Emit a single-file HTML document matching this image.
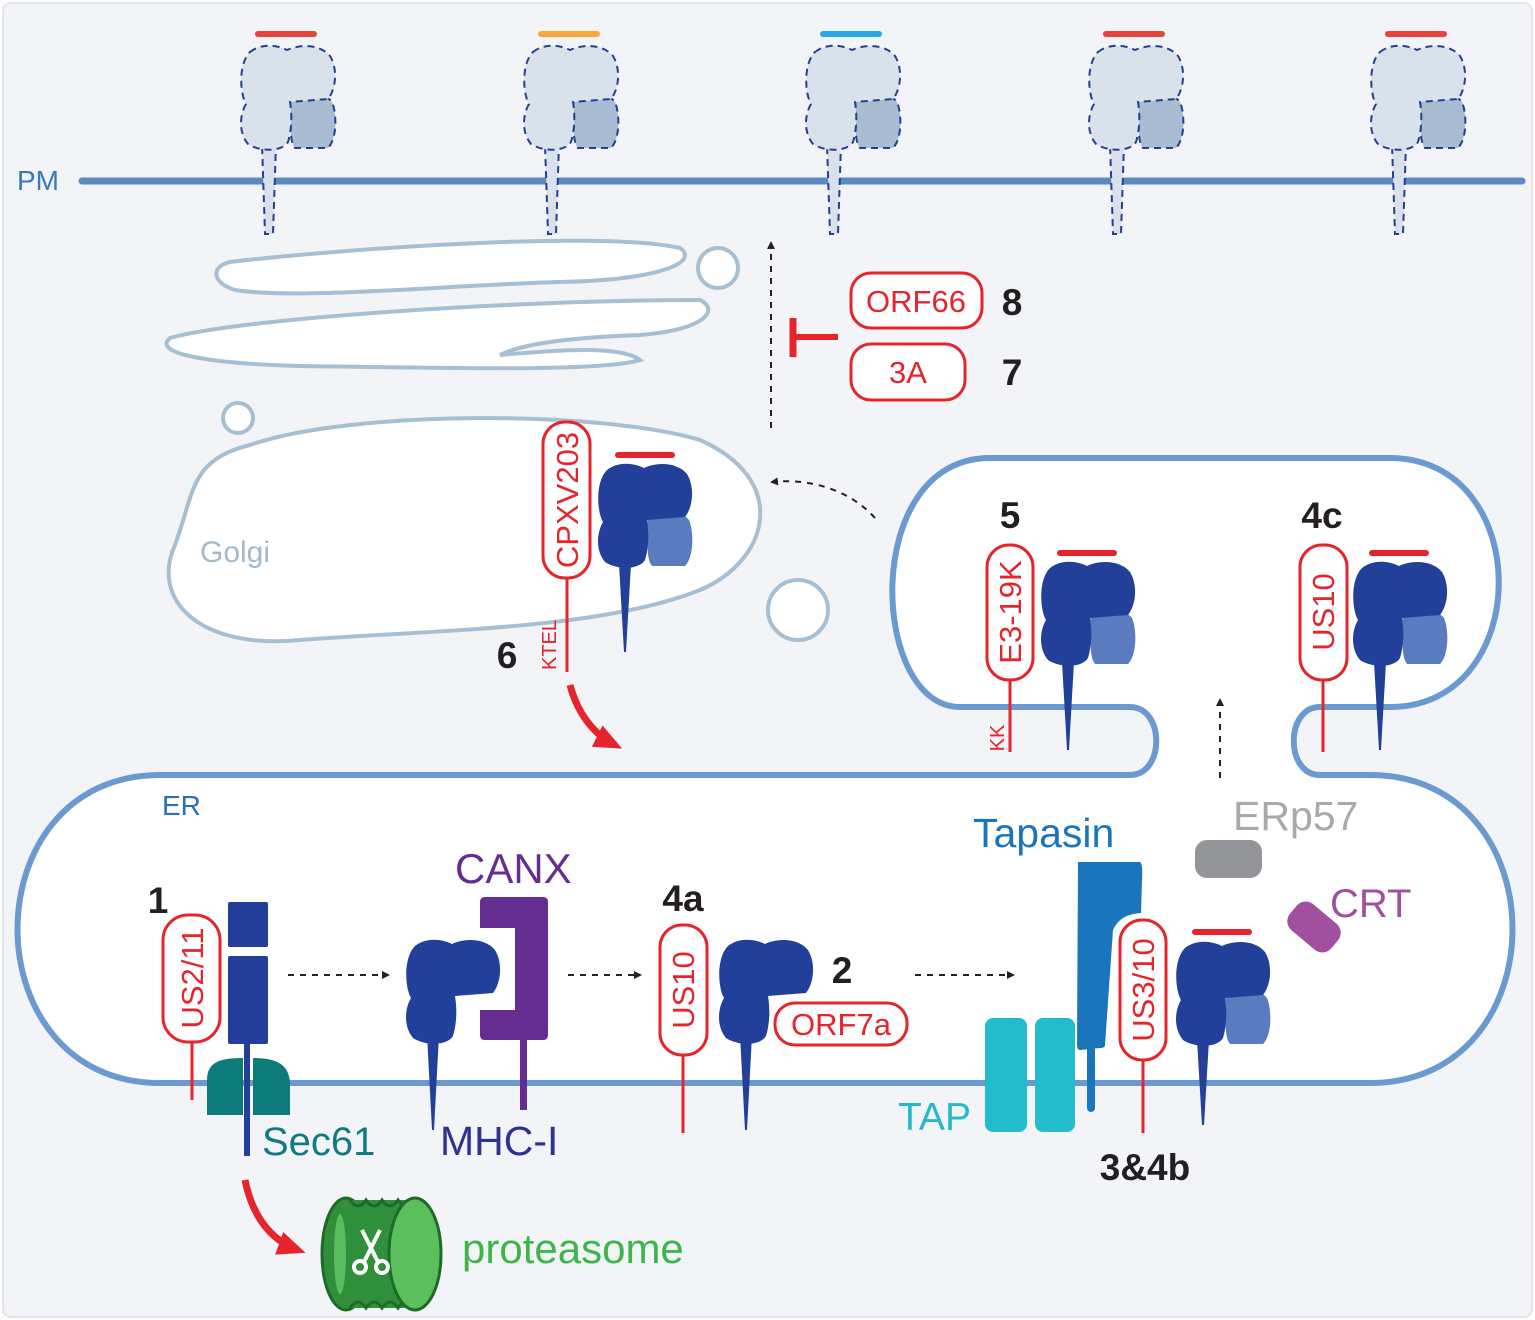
<!DOCTYPE html>
<html><head><meta charset="utf-8"><style>
html,body{margin:0;padding:0;background:#fff}
svg{display:block}
text{font-family:"Liberation Sans",Arial,sans-serif}
</style></head><body>
<svg width="1535" height="1320" viewBox="0 0 1535 1320" xmlns="http://www.w3.org/2000/svg">
<defs>
<g id="lite"><path d="M50,55 C60,48 85,48 92,58 C97,70 97,95 88,104 L55,104 C48,95 52,75 50,55Z" fill="#5a7bbd"/></g>
<g id="dark"><path d="M10,8 C20,0 35,0 47,6 C60,0 80,0 90,12 C98,25 96,45 88,55 L50,58 C52,70 52,85 48,98 C42,108 20,108 8,100 C-2,88 0,70 6,60 C0,50 -2,20 10,8Z" fill="#22409a"/></g>
<g id="ghost">
<path d="M22,100 L36,100 L33,190 L25,190 Z" fill="#d9e1ea" stroke="#24408f" stroke-width="2" stroke-dasharray="7,5"/>
<path d="M50,55 C60,48 85,48 92,58 C97,70 97,95 88,104 L55,104 C48,95 52,75 50,55Z" fill="#a9bdd2" stroke="#24408f" stroke-width="2" stroke-dasharray="7,5"/>
<path d="M10,8 C20,0 35,0 47,6 C60,0 80,0 90,12 C98,25 96,45 88,55 L50,58 C52,70 52,85 48,98 C42,108 20,108 8,100 C-2,88 0,70 6,60 C0,50 -2,20 10,8Z" fill="#d9e1ea" stroke="#24408f" stroke-width="2" stroke-dasharray="7,5"/>
</g>
<marker id="ah" markerWidth="8" markerHeight="8" refX="6" refY="4" orient="auto" markerUnits="userSpaceOnUse"><path d="M0,0 L8,4 L0,8Z" fill="#222"/></marker>
<marker id="rh" markerWidth="30" markerHeight="30" refX="20" refY="15" orient="auto" markerUnits="userSpaceOnUse"><path d="M0,3 L28,15 L0,27Z" fill="#e5242b"/></marker>
</defs>
<rect x="0" y="0" width="1535" height="1320" fill="#fff"/>
<rect x="3" y="3" width="1529" height="1314" rx="8" fill="#f2f4f8" stroke="#e3e6ec" stroke-width="2"/>

<!-- PM -->
<line x1="82" y1="181" x2="1522" y2="181" stroke="#5b8ac2" stroke-width="7" stroke-linecap="round"/>
<text x="17" y="190" font-size="28" fill="#3a78b8">PM</text>
<g>
<use href="#ghost" transform="translate(240,44)"/>
<use href="#ghost" transform="translate(523,44)"/>
<use href="#ghost" transform="translate(805,44)"/>
<use href="#ghost" transform="translate(1088,44)"/>
<use href="#ghost" transform="translate(1370,44)"/>
<rect x="255" y="31" width="62" height="6" rx="3" fill="#e8423a"/>
<rect x="538" y="31" width="62" height="6" rx="3" fill="#f5a83c"/>
<rect x="820" y="31" width="62" height="6" rx="3" fill="#27aae1"/>
<rect x="1103" y="31" width="62" height="6" rx="3" fill="#e8423a"/>
<rect x="1385" y="31" width="62" height="6" rx="3" fill="#e8423a"/>
</g>

<!-- Golgi -->
<g fill="#fff" stroke="#a7bfd3" stroke-width="4">
<path d="M230,262 C330,250 600,230 680,248 C700,262 660,280 560,282 C450,285 300,300 235,290 C210,282 212,266 230,262Z"/>
<path d="M170,338 C240,318 520,300 700,300 C720,310 705,330 640,335 C560,338 520,345 500,355 C560,350 620,345 640,360 C600,372 450,368 300,366 C220,364 150,355 170,338Z"/>
<path d="M250,445 C350,410 600,410 700,440 C790,480 770,560 700,590 C600,630 430,630 300,640 C200,650 150,600 175,545 C195,490 190,460 250,445Z"/>
<circle cx="718" cy="268" r="20"/>
<circle cx="238" cy="418" r="15"/>
<circle cx="798" cy="610" r="30"/>
</g>
<text x="200" y="562" font-size="30" fill="#a3b9cc">Golgi</text>

<!-- ER + vesicle -->
<path d="M160,775 L1130,775 C1165,775 1165,707 1130,707 L960,707 C870,707 860,458 990,458 L1390,458 C1535,458 1535,707 1390,707 L1320,707 C1285,707 1285,775 1320,775 L1370,775 C1560,775 1560,1083 1370,1083 L160,1083 C-30,1083 -30,775 160,775Z" fill="#fff" stroke="#6a9ad0" stroke-width="6"/>
<text x="162" y="815" font-size="28" fill="#2c6fb4">ER</text>

<!-- arrows dashed -->
<g stroke="#222" stroke-width="2" stroke-dasharray="6,6" fill="none" marker-end="url(#ah)">
<line x1="771" y1="428" x2="771" y2="243"/>
<path d="M875,518 C850,490 810,478 772,482"/>
<line x1="1220" y1="778" x2="1220" y2="700"/>
<line x1="288" y1="975" x2="388" y2="975"/>
<line x1="568" y1="975" x2="640" y2="975"/>
<line x1="915" y1="975" x2="1013" y2="975"/>
</g>

<!-- inhibit -->
<line x1="838" y1="337" x2="795" y2="337" stroke="#e5242b" stroke-width="6"/>
<line x1="793" y1="318" x2="793" y2="357" stroke="#e5242b" stroke-width="7"/>

<!-- red label boxes -->
<g fill="#fff" stroke="#e5242b" stroke-width="3">
<rect x="851" y="273" width="131" height="55" rx="20"/>
<rect x="851" y="344" width="114" height="56" rx="20"/>
<rect x="543" y="422" width="47" height="156" rx="22"/>
<rect x="987" y="545" width="46" height="135" rx="22"/>
<rect x="1300" y="545" width="47" height="135" rx="22"/>
<rect x="163" y="915" width="57" height="127" rx="25"/>
<rect x="660" y="925" width="47" height="130" rx="22"/>
<rect x="1120" y="920" width="46" height="140" rx="22"/>
</g>
<g stroke="#e5242b" stroke-width="3">
<line x1="567" y1="578" x2="567" y2="672"/>
<line x1="1010" y1="680" x2="1010" y2="752"/>
<line x1="1323" y1="680" x2="1323" y2="752"/>
<line x1="192" y1="1042" x2="192" y2="1100"/>
<line x1="683" y1="1055" x2="683" y2="1133"/>
<line x1="1143" y1="1060" x2="1143" y2="1133"/>
</g>
<g fill="#e5242b" font-size="31" text-anchor="middle">
<text x="916" y="312">ORF66</text>
<text x="908" y="383">3A</text>
<text transform="translate(578,500) rotate(-90)">CPXV203</text>
<text transform="translate(1021,612) rotate(-90)">E3-19K</text>
<text transform="translate(1334,612) rotate(-90)">US10</text>
<text transform="translate(203,978) rotate(-90)">US2/11</text>
<text transform="translate(694,990) rotate(-90)">US10</text>
<text transform="translate(1154,990) rotate(-90)">US3/10</text>
<text x="556" y="645" font-size="20" transform="rotate(-90 556 645)">KTEL</text>
<text x="1004" y="738" font-size="20" transform="rotate(-90 1004 738)">KK</text>
</g>

<!-- MHC in golgi & vesicle -->
<use href="#lite" transform="translate(597,462)"/><use href="#dark" transform="translate(597,462)"/>
<path d="M619,564 L631,564 L626,652 L624,652Z" fill="#22409a"/>
<rect x="615" y="452" width="60" height="6" rx="3" fill="#e5242b"/>
<use href="#lite" transform="translate(1040,560)"/><use href="#dark" transform="translate(1040,560)"/>
<path d="M1062,662 L1074,662 L1069,750 L1067,750Z" fill="#22409a"/>
<rect x="1057" y="550" width="60" height="6" rx="3" fill="#e5242b"/>
<use href="#lite" transform="translate(1352,560)"/><use href="#dark" transform="translate(1352,560)"/>
<path d="M1374,662 L1386,662 L1381,750 L1379,750Z" fill="#22409a"/>
<rect x="1369" y="550" width="60" height="6" rx="3" fill="#e5242b"/>

<!-- Sec61 + heavy chain -->
<rect x="228" y="902" width="40" height="45" rx="2" fill="#22409a"/>
<rect x="228" y="956" width="40" height="88" rx="2" fill="#22409a"/>
<rect x="244" y="1040" width="6" height="116" fill="#22409a"/>
<path d="M207,1115 L207,1080 C207,1062 220,1058 243,1058 L243,1115Z" fill="#0e7b7b"/>
<path d="M253,1115 L253,1058 C276,1058 290,1064 290,1085 L290,1115Z" fill="#0e7b7b"/>
<text x="262" y="1155" font-size="40" fill="#127a80">Sec61</text>

<!-- CANX -->
<use href="#dark" transform="translate(405,938)"/>
<path d="M427,1035 L439,1035 L434,1130 L432,1130Z" fill="#22409a"/>
<path d="M485,897 L543,897 Q548,897 548,902 L548,1035 Q548,1040 543,1040 L485,1040 Q480,1040 480,1035 L480,1010 L515,1010 L515,928 L480,928 L480,902 Q480,897 485,897Z" fill="#662d91"/>
<rect x="520" y="1035" width="7" height="75" fill="#662d91"/>
<text x="455" y="883" font-size="42" fill="#662d91">CANX</text>
<text x="440" y="1155" font-size="41" fill="#2e3192">MHC-I</text>

<!-- 4a -->
<use href="#dark" transform="translate(718,938)"/>
<path d="M740,1035 L752,1035 L747,1130 L745,1130Z" fill="#22409a"/>
<rect x="775" y="1003" width="132" height="42" rx="20" fill="#fff" stroke="#e5242b" stroke-width="3"/>
<text x="841" y="1035" font-size="31" fill="#e5242b" text-anchor="middle">ORF7a</text>

<!-- TAP, tapasin, MHC -->
<rect x="985" y="1018" width="42" height="114" rx="8" fill="#22bccc"/>
<rect x="1035" y="1018" width="40" height="114" rx="8" fill="#22bccc"/>
<text x="898" y="1130" font-size="39" fill="#27b8cc">TAP</text>
<path d="M1078,862 L1140,862 Q1143,864 1142,880 L1141,913 Q1120,914 1113,930 L1105,1045 Q1105,1048 1100,1048 L1080,1050 Q1077,1050 1077,1045Z" fill="#1b75bc"/>
<rect x="1087" y="1045" width="8" height="67" rx="4" fill="#1b75bc"/>
<text x="973" y="847" font-size="41" fill="#1b75bc">Tapasin</text>
<rect x="1195" y="840" width="67" height="38" rx="12" fill="#939598"/>
<text x="1233" y="830" font-size="41" fill="#a7a9ac">ERp57</text>
<rect x="1287" y="910" width="54" height="34" rx="12" fill="#a150a0" transform="rotate(40 1314 927)"/>
<text x="1330" y="917" font-size="40" fill="#a150a0">CRT</text>
<use href="#lite" transform="translate(1175,940)"/><use href="#dark" transform="translate(1175,940)"/>
<path d="M1197,1040 L1209,1040 L1204,1125 L1202,1125Z" fill="#22409a"/>
<rect x="1192" y="929" width="60" height="6" rx="3" fill="#e5242b"/>

<!-- red curved arrows -->
<path d="M570,685 C578,715 595,735 615,745" stroke="#e5242b" stroke-width="7" fill="none" marker-end="url(#rh)"/>
<path d="M245,1180 C252,1215 270,1240 298,1250" stroke="#e5242b" stroke-width="7" fill="none" marker-end="url(#rh)"/>

<!-- proteasome -->
<g>
<ellipse cx="346" cy="1254" rx="24" ry="56" fill="#2f8f3a" stroke="#1d6b27" stroke-width="3"/>
<path d="M346,1200 L415,1200 L415,1308 L346,1308Z" fill="#2f8f3a"/>
<path d="M350,1200 q8,12 16,0 q8,12 16,0 q8,12 16,0 q8,12 16,0 M350,1308 q8,-12 16,0 q8,-12 16,0 q8,-12 16,0 q8,-12 16,0" stroke="#1d6b27" stroke-width="3" fill="none"/>
<ellipse cx="415" cy="1254" rx="26" ry="56" fill="#5cbf5e" stroke="#1d6b27" stroke-width="3"/>
<ellipse cx="340" cy="1254" rx="6" ry="40" fill="#6ccf70" opacity="0.7"/>
<g stroke="#fff" stroke-width="4" fill="none">
<line x1="362" y1="1230" x2="378" y2="1262"/><line x1="380" y1="1230" x2="364" y2="1262"/>
<circle cx="360" cy="1267" r="6"/><circle cx="382" cy="1267" r="6"/>
</g>
</g>
<text x="462" y="1263" font-size="42" fill="#3db54a">proteasome</text>

<!-- numbers -->
<g font-size="37" font-weight="bold" fill="#231f20" text-anchor="middle">
<text x="1012" y="315">8</text>
<text x="1012" y="385">7</text>
<text x="1010" y="528">5</text>
<text x="1322" y="528">4c</text>
<text x="507" y="668">6</text>
<text x="158" y="913">1</text>
<text x="683" y="911">4a</text>
<text x="842" y="983">2</text>
<text x="1145" y="1180">3&amp;4b</text>
</g>
</svg>
</body></html>
